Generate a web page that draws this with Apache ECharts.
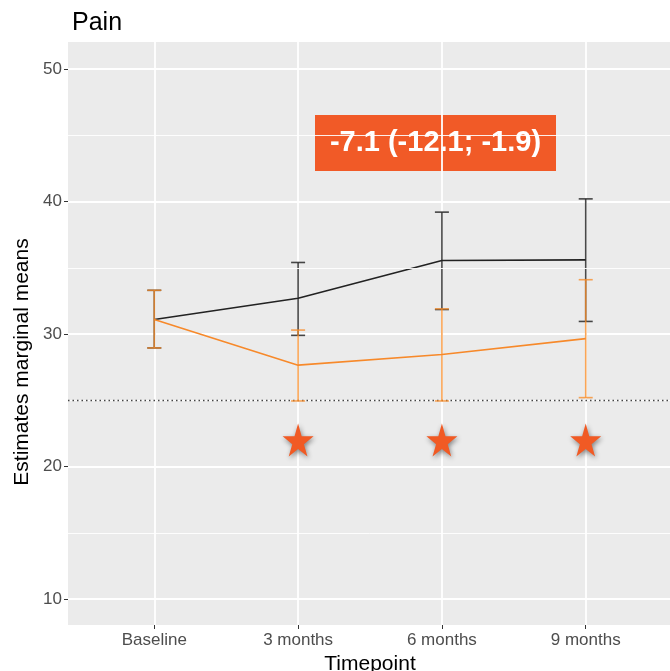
<!DOCTYPE html>
<html>
<head>
<meta charset="utf-8">
<script src="https://cdn.jsdelivr.net/npm/echarts@6/dist/echarts.min.js"></script>
<style>
  html, body { margin: 0; padding: 0; background: #fff; }
  #chart { width: 670px; height: 671px; }
</style>
</head>
<body>
<div id="chart"></div>
<script>
// 数据
const timepoints = ['Baseline', '3 months', '6 months', '9 months'];
const controlMean = [31.1, 32.7, 35.55, 35.6];
const controlLow = [28.95, 29.9, 31.85, 30.95];
const controlHigh = [33.3, 35.4, 39.2, 40.2];
const treatMean = [31.1, 27.65, 28.45, 29.65];
const treatLow = [28.95, 24.95, 24.95, 25.2];
const treatHigh = [33.3, 30.3, 31.9, 34.1];
const starX = [1, 2, 3];
const starY = 22;
const threshold = 25;
const yTicks = [10, 20, 30, 40, 50];
const yMinor = [15, 25, 35, 45];
const xTicks = [0, 1, 2, 3];

const FONT = '"Liberation Sans", Arial, sans-serif';
const chart = echarts.init(document.getElementById('chart'));

// 误差线
function errorBars(name, low, high, color, z) {
  return {
    type: 'custom',
    name: name,
    z: z,
    data: low.map((l, i) => [i, l, high[i]]),
    encode: { x: 0, y: [1, 2] },
    renderItem: function (params, api) {
      const x = api.value(0);
      const lo = api.coord([x, api.value(1)]);
      const hi = api.coord([x, api.value(2)]);
      const hw = 7;
      const style = { stroke: color, lineWidth: 1.6 };
      return {
        type: 'group',
        children: [
          { type: 'line', shape: { x1: lo[0], y1: lo[1], x2: hi[0], y2: hi[1] }, style: style },
          { type: 'line', shape: { x1: hi[0] - hw, y1: hi[1], x2: hi[0] + hw, y2: hi[1] }, style: style },
          { type: 'line', shape: { x1: lo[0] - hw, y1: lo[1], x2: lo[0] + hw, y2: lo[1] }, style: style }
        ]
      };
    }
  };
}

const starPath = 'path://M50,0 L61,35 L98,35 L68,57 L79,91 L50,70 L21,91 L32,57 L2,35 L39,35 Z';

const option = {
  animation: false,
  backgroundColor: '#ffffff',
  grid: {
    left: 68, top: 42, width: 604, height: 583, outerBoundsMode: 'none', containLabel: false,
    show: true, backgroundColor: '#EBEBEB', borderWidth: 0
  },
  title: {
    text: 'Pain', left: 67, top: 6,
    textStyle: { fontFamily: FONT, fontSize: 25, fontWeight: 'normal', color: '#000' }
  },
  xAxis: {
    type: 'value', min: -0.6, max: 3.6,
    name: 'Timepoint', nameLocation: 'middle', nameGap: 29,
    nameTextStyle: { fontFamily: FONT, fontSize: 21, color: '#000' },
    axisLine: { show: false, onZero: false },
    axisTick: { show: true, customValues: xTicks, length: 4, lineStyle: { color: '#333' } },
    axisLabel: {
      customValues: xTicks, fontFamily: FONT, fontSize: 17, color: '#4D4D4D', margin: 7,
      formatter: v => timepoints[Math.round(v)]
    },
    splitLine: { show: true, customValues: xTicks, lineStyle: { color: '#fff', width: 1.8 } }
  },
  yAxis: {
    type: 'value', min: 8.04, max: 52.04,
    axisLine: { show: false, onZero: false },
    axisTick: { show: true, customValues: yTicks, length: 4, lineStyle: { color: '#333' } },
    axisLabel: { customValues: yTicks, fontFamily: FONT, fontSize: 17, color: '#4D4D4D', margin: 6 },
    splitLine: { show: true, customValues: yTicks, lineStyle: { color: '#fff', width: 1.8 } }
  },
  series: [
    {
      // 次网格线
      type: 'line', data: [], silent: true, z: 1,
      markLine: {
        silent: true, symbol: 'none', label: { show: false },
        data: yMinor.map(v => ({ yAxis: v, lineStyle: { color: '#fff', width: 0.9, type: 'solid' } }))
      }
    },
    {
      // 阈值虚线
      type: 'line', data: [], silent: true, z: 5,
      markLine: {
        silent: true, symbol: 'none', label: { show: false },
        data: [{ yAxis: threshold, lineStyle: { color: '#444', width: 1.3, type: [1.5, 3] } }]
      }
    },
    errorBars('control-err', controlLow, controlHigh, 'rgba(40,40,40,0.85)', 3),
    {
      type: 'line', z: 4, showSymbol: false,
      data: controlMean.map((v, i) => [i, v]),
      lineStyle: { color: '#222', width: 1.6 }
    },
    errorBars('treat-err', treatLow, treatHigh, 'rgba(247,140,40,0.78)', 6),
    {
      type: 'line', z: 7, showSymbol: false,
      data: treatMean.map((v, i) => [i, v]),
      lineStyle: { color: '#F7892A', width: 1.6 }
    },
    {
      type: 'scatter', z: 8,
      symbol: starPath, symbolSize: [31, 33],
      data: starX.map(x => [x, starY]),
      itemStyle: {
        color: '#F15A24', opacity: 1, shadowBlur: 5, shadowColor: 'rgba(0,0,0,0.45)',
        shadowOffsetX: 1, shadowOffsetY: 2
      }
    }
  ],
  graphic: [
    {
      // y 轴标题
      type: 'text', x: 22, y: 362, rotation: Math.PI / 2,
      style: {
        text: 'Estimates marginal means', fill: '#000', font: '21px ' + FONT,
        textAlign: 'center', textVerticalAlign: 'middle'
      }
    },
    {
      type: 'group', left: 315, top: 115, z: 100,
      children: [
        { type: 'rect', shape: { x: 0, y: 0, width: 241, height: 56 }, style: { fill: '#F15A27' } },
        {
          type: 'text', x: 120.5, y: 28,
          style: {
            text: '-7.1 (-12.1; -1.9)', fill: '#fff', font: 'bold 29px ' + FONT,
            textAlign: 'center', textVerticalAlign: 'middle'
          }
        }
      ]
    }
  ]
};

chart.setOption(option);
</script>
</body>
</html>
